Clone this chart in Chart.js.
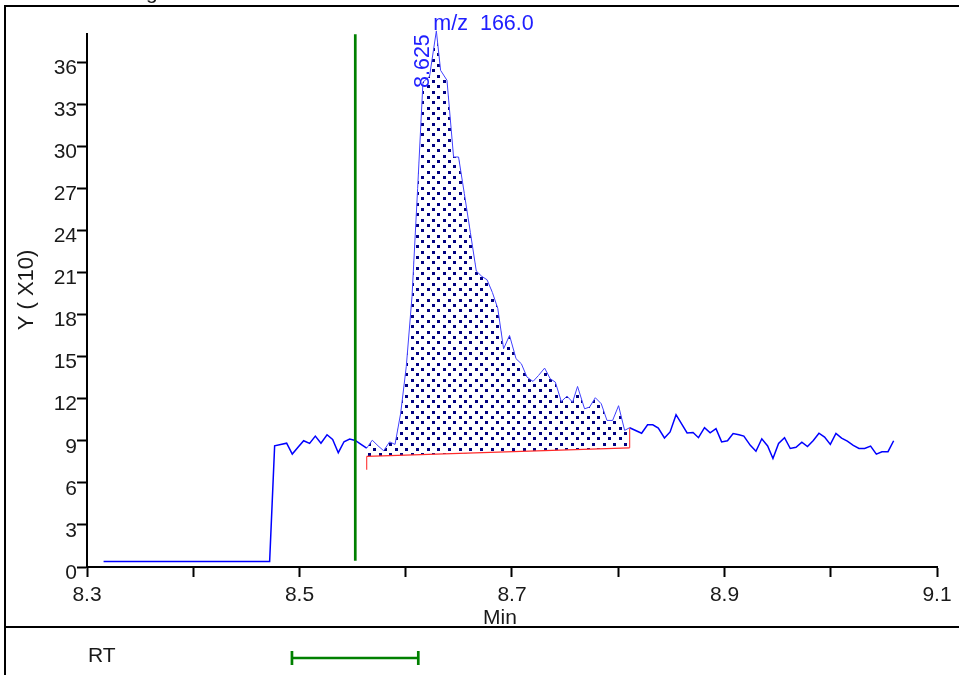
<!DOCTYPE html>
<html>
<head>
<meta charset="utf-8">
<script src="https://cdn.jsdelivr.net/npm/chart.js@4.4.1/dist/chart.umd.min.js"></script>
<style>
html, body { margin: 0; padding: 0; background: #fff; }
#wrap { position: relative; width: 959px; height: 675px; }
</style>
</head>
<body>
<div id="wrap"><canvas id="chrom" width="959" height="675"></canvas></div>
<script>
// retention time (min) of each scan
const times = [
  8.3156, 8.4719, 8.4766, 8.4879, 8.4932, 8.4986, 8.5039, 8.5095, 8.5149, 8.5202,
  8.5259, 8.5312, 8.5365, 8.5419, 8.5472, 8.5525, 8.5579, 8.5632, 8.5685, 8.5739,
  8.5792, 8.5848, 8.5899, 8.5952, 8.6005, 8.6059, 8.6112, 8.6162, 8.6224, 8.6288,
  8.6328, 8.6388, 8.6450, 8.6497, 8.6551, 8.6608, 8.6664, 8.6716, 8.6765, 8.6815,
  8.6866, 8.6921, 8.6977, 8.7038, 8.7088, 8.7141, 8.7198, 8.7250, 8.7307, 8.7360,
  8.7408, 8.7464, 8.7518, 8.7570, 8.7617, 8.7683, 8.7730, 8.7784, 8.7840, 8.7894,
  8.7947, 8.8003, 8.8060, 8.8107, 8.8220, 8.8276, 8.8325, 8.8377, 8.8435, 8.8488,
  8.8544, 8.8648, 8.8704, 8.8755, 8.8812, 8.8865, 8.8920, 8.8973, 8.9028, 8.9081,
  8.9136, 8.9182, 8.9243, 8.9296, 8.9351, 8.9406, 8.9456, 8.9509, 8.9565, 8.9619,
  8.9673, 8.9728, 8.9781, 8.9836, 8.9889, 8.9942, 8.9996, 9.0049, 9.0102, 9.0156,
  9.0212, 9.0266, 9.0319, 9.0375, 9.0429, 9.0482, 9.0539, 9.0592
];
// abundance, Y (x10)
const counts = [
  0.39, 0.39, 8.64, 8.83, 8.05, 8.54, 9.00, 8.81, 9.33, 8.83,
  9.43, 9.09, 8.15, 8.93, 9.12, 9.02, 8.74, 8.47, 9.04, 8.64,
  8.29, 8.92, 8.74, 10.95, 14.30, 19.29, 27.00, 34.56, 34.99, 38.22,
  35.41, 34.70, 29.23, 29.23, 26.64, 23.86, 21.10, 20.72, 20.48, 19.58,
  18.44, 15.56, 16.51, 14.85, 14.49, 13.54, 13.23, 13.66, 14.18, 13.42,
  13.18, 11.80, 12.18, 11.75, 12.87, 11.28, 11.40, 12.07, 11.64, 10.45,
  10.45, 11.50, 9.74, 9.93, 9.54, 10.14, 10.14, 9.91, 9.20, 9.63,
  10.86, 9.56, 9.59, 9.22, 9.93, 9.57, 9.86, 8.92, 9.00, 9.52,
  9.43, 9.33, 8.67, 8.25, 9.14, 8.63, 7.74, 8.81, 9.22, 8.45,
  8.54, 8.90, 8.59, 9.02, 9.54, 9.26, 8.74, 9.52, 9.19, 8.97,
  8.67, 8.45, 8.45, 8.62, 8.05, 8.22, 8.22, 9.00
];

const xTicks = [8.3, 8.4, 8.5, 8.6, 8.7, 8.8, 8.9, 9.0, 9.1];
const xLabels = ['8.3', '', '8.5', '', '8.7', '', '8.9', '', '9.1'];
const yTicks = [0, 3, 6, 9, 12, 15, 18, 21, 24, 27, 30, 33, 36];

// integration: start/end time and baseline level at each end
const peakWindow = [8.5632, 8.8107];
const baseLevel = [7.88, 8.50];
const startTickLow = 6.93;
const endTickHigh = 9.9;
const markerRT = 8.5525;          // green expected-RT line
const markerSpan = [0.45, 37.98];
const rtWindow = [8.4929, 8.6118]; // RT bar in lower panel
const ionLabel = 'm/z  166.0';
const peakRTLabel = '8.625';

const FONT = "'Liberation Sans', Arial, sans-serif";
const TXT = '#1a1a1a';

const trace = times.map((t, i) => ({ x: t, y: counts[i] }));
const before = trace.filter(p => p.x <= peakWindow[0]);
const inside = trace.filter(p => p.x >= peakWindow[0] && p.x <= peakWindow[1]);
const after = trace.filter(p => p.x >= peakWindow[1]);

let apex = trace[0];
trace.forEach(p => { if (p.y > apex.y) apex = p; });

function dotPattern() {
    const c = document.createElement('canvas');
    c.width = 32; c.height = 32;
    const g = c.getContext('2d');
    g.fillStyle = '#000080';
    const step = 32 / 3;
    for (let i = 0; i < 3; i++) {
        for (let j = 0; j < 3; j++) {
            g.fillRect(Math.round(i * step), Math.round(j * step), 3, 3);
            g.fillRect(Math.round(i * step + step / 2), Math.round(j * step + step / 2), 3, 3);
        }
    }
    return g.createPattern(c, 'repeat');
}

const decorations = {
    id: 'decorations',
    afterDraw(chart) {
        const ctx = chart.ctx;
        const xs = chart.scales.x;
        const ys = chart.scales.y;
        ctx.save();

        // frame
        ctx.strokeStyle = '#000';
        ctx.lineWidth = 2;
        ctx.beginPath();
        ctx.moveTo(5, 675); ctx.lineTo(5, 6); ctx.lineTo(959, 6);
        ctx.moveTo(5, 627); ctx.lineTo(959, 627);
        ctx.stroke();

        ctx.fillStyle = TXT;
        ctx.font = '21px ' + FONT;
        ctx.textBaseline = 'alphabetic';
        ctx.fillText('g', 146, -1);

        // axis titles
        ctx.textAlign = 'center';
        ctx.fillText('Min', 500, 624);
        ctx.save();
        ctx.translate(33, 290);
        ctx.rotate(-Math.PI / 2);
        ctx.font = '22px ' + FONT;
        ctx.fillText('Y ( X10)', 0, 0);
        ctx.restore();

        // RT panel
        ctx.textAlign = 'left';
        ctx.fillText('RT', 88, 662);
        const a = xs.getPixelForValue(rtWindow[0]);
        const b = xs.getPixelForValue(rtWindow[1]);
        ctx.strokeStyle = '#008000';
        ctx.lineWidth = 2.7;
        ctx.beginPath();
        ctx.moveTo(a, 658); ctx.lineTo(b, 658);
        ctx.moveTo(a, 651); ctx.lineTo(a, 665);
        ctx.moveTo(b, 651); ctx.lineTo(b, 665);
        ctx.stroke();

        // peak labels
        const ax = xs.getPixelForValue(apex.x);
        const ay = ys.getPixelForValue(apex.y);
        ctx.fillStyle = '#2020ff';
        ctx.font = '21.5px ' + FONT;
        ctx.fillText(ionLabel, ax - 3, ay - 1);
        ctx.save();
        ctx.translate(ax - 7, 88);
        ctx.rotate(-Math.PI / 2);
        ctx.fillText(peakRTLabel, 0, 0);
        ctx.restore();

        ctx.restore();
    }
};

const thin = { borderColor: '#4040ff', borderWidth: 1, pointRadius: 0, tension: 0 };
const thick = { borderColor: '#0000ff', borderWidth: 1.5, pointRadius: 0, tension: 0 };

new Chart(document.getElementById('chrom'), {
    type: 'line',
    data: {
        datasets: [
            { data: [{ x: markerRT, y: markerSpan[0] }, { x: markerRT, y: markerSpan[1] }],
              borderColor: '#008000', borderWidth: 2.7, pointRadius: 0, order: 0 },
            { data: [{ x: peakWindow[0], y: baseLevel[0] }, { x: peakWindow[1], y: baseLevel[1] }],
              borderColor: '#ff2a2a', borderWidth: 1.3, pointRadius: 0, order: 2 },
            { data: [{ x: peakWindow[0], y: startTickLow }, { x: peakWindow[0], y: baseLevel[0] }],
              borderColor: '#ff5050', borderWidth: 1.3, pointRadius: 0, order: 2 },
            { data: [{ x: peakWindow[1], y: baseLevel[1] }, { x: peakWindow[1], y: endTickHigh }],
              borderColor: '#ff5050', borderWidth: 1.3, pointRadius: 0, order: 2 },
            Object.assign({ data: inside, fill: 1, backgroundColor: dotPattern(), clip: false, order: 5 }, thin),
            Object.assign({ data: before, order: 4 }, thick),
            Object.assign({ data: after, order: 4 }, thick)
        ]
    },
    options: {
        responsive: false,
        animation: false,
        layout: { padding: { left: 0, top: 34, right: 22, bottom: 0 } },
        plugins: { legend: { display: false }, tooltip: { enabled: false } },
        scales: {
            x: {
                type: 'linear', min: 8.3, max: 9.1,
                afterBuildTicks: s => { s.ticks = xTicks.map(v => ({ value: v })); },
                afterFit: s => { s.height = 675 - 567; },
                ticks: {
                    callback: (v, i) => xLabels[i],
                    autoSkip: false, maxRotation: 0, padding: 6,
                    color: TXT, font: { family: FONT, size: 21 }
                },
                grid: { drawOnChartArea: false, drawTicks: true, tickLength: 10, tickWidth: 2, tickColor: '#000' },
                border: { display: true, color: '#000', width: 2 }
            },
            y: {
                min: 0, max: 38,
                afterBuildTicks: s => { s.ticks = yTicks.map(v => ({ value: v })); },
                afterFit: s => { s.width = 87; },
                ticks: {
                    padding: 0, labelOffset: 6,
                    color: TXT, font: { family: FONT, size: 21 }
                },
                grid: { drawOnChartArea: false, drawTicks: true, tickLength: 10, tickWidth: 2, tickColor: '#000' },
                border: { display: true, color: '#000', width: 2 }
            }
        }
    },
    plugins: [decorations]
});
</script>
</body>
</html>
